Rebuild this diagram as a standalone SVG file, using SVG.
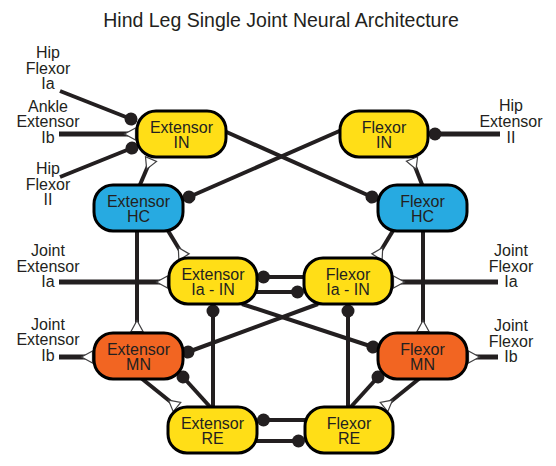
<svg xmlns="http://www.w3.org/2000/svg" width="556" height="466" viewBox="0 0 556 466">
<style>
  text { font-family: "Liberation Sans", Arial, sans-serif; fill: #231F20; }
  .title { font-size: 19.5px; text-anchor: middle; }
  .lbl { font-size: 16px; text-anchor: middle; }
  .nt { font-size: 16px; text-anchor: middle; }
  .box { stroke: #000; stroke-width: 3; }
  .y { fill: #FFDE17; }
  .b { fill: #27AAE1; }
  .o { fill: #F26522; }
  .c { stroke: #231F20; stroke-width: 4; fill: none; }
  .in { stroke-width: 5; }
  .exc { marker-end: url(#exc); }
  .inh { marker-end: url(#inh); }
</style>
<defs>
  <marker id="exc" markerUnits="userSpaceOnUse" markerWidth="16" markerHeight="16" viewBox="-13 -8 16 16" refX="0" refY="0" orient="auto">
    <path d="M-11,0 L0,-6 L0,6 Z" fill="#fff" stroke="#414042" stroke-width="1.2" stroke-linejoin="miter"/>
  </marker>
  <marker id="inh" markerUnits="userSpaceOnUse" markerWidth="16" markerHeight="16" viewBox="-8 -8 16 16" refX="0" refY="0" orient="auto">
    <circle cx="0" cy="0" r="6.5" fill="#231F20"/>
  </marker>
</defs>

<text class="title" x="281" y="27">Hind Leg Single Joint Neural Architecture</text>

<g id="labels">
  <text class="lbl" x="48" y="58">Hip</text>
  <text class="lbl" x="48" y="74">Flexor</text>
  <text class="lbl" x="48" y="89">Ia</text>
  <text class="lbl" x="48" y="112">Ankle</text>
  <text class="lbl" x="48" y="127">Extensor</text>
  <text class="lbl" x="48" y="143">Ib</text>
  <text class="lbl" x="48" y="174">Hip</text>
  <text class="lbl" x="48" y="190">Flexor</text>
  <text class="lbl" x="48" y="205">II</text>
  <text class="lbl" x="48" y="256">Joint</text>
  <text class="lbl" x="48" y="272">Extensor</text>
  <text class="lbl" x="48" y="287">Ia</text>
  <text class="lbl" x="48" y="330">Joint</text>
  <text class="lbl" x="48" y="345">Extensor</text>
  <text class="lbl" x="48" y="361">Ib</text>
  <text class="lbl" x="511" y="111">Hip</text>
  <text class="lbl" x="511" y="127">Extensor</text>
  <text class="lbl" x="511" y="143">II</text>
  <text class="lbl" x="511" y="256">Joint</text>
  <text class="lbl" x="511" y="272">Flexor</text>
  <text class="lbl" x="511" y="287">Ia</text>
  <text class="lbl" x="511" y="331">Joint</text>
  <text class="lbl" x="511" y="347">Flexor</text>
  <text class="lbl" x="511" y="362">Ib</text>
</g>

<g id="connectors">
  <!-- inputs -->
  <path class="c inh" d="M60,91 L131,119"/>
  <path class="c in exc" d="M59,134 L135.5,134"/>
  <path class="c inh" d="M60,177 L132,148"/>
  <path class="c in inh" d="M500,134 L435,134"/>
  <path class="c in exc" d="M59,282 L167.5,282"/>
  <path class="c in exc" d="M59,357 L92.5,357"/>
  <path class="c in exc" d="M498,282 L393.5,282"/>
  <path class="c in exc" d="M498,357 L468.5,357"/>
  <!-- HC to IN -->
  <path class="c exc" d="M139,187 L151,159"/>
  <path class="c exc" d="M423,187 L412,159"/>
  <!-- IN to HC crossing -->
  <path class="c inh" d="M222,130 L372,197"/>
  <path class="c inh" d="M344,129 L189,197"/>
  <!-- HC to Ia-IN -->
  <path class="c exc" d="M167,229 L184,257"/>
  <path class="c exc" d="M394,229 L377,257"/>
  <!-- HC to MN -->
  <path class="c exc" d="M137,230 L137,331.5"/>
  <path class="c exc" d="M423,230 L423,331.5"/>
  <!-- Ia-IN mutual -->
  <path class="c inh" d="M306,277 L263.5,277"/>
  <path class="c inh" d="M255,292 L297.5,292"/>
  <!-- Ia-IN to MN crossing -->
  <path class="c inh" d="M242,304 L373,347"/>
  <path class="c inh" d="M318,304 L188,352"/>
  <!-- RE to Ia-IN -->
  <path class="c inh" d="M213,410 L213,311"/>
  <path class="c inh" d="M348,410 L348,311"/>
  <!-- RE to MN -->
  <path class="c inh" d="M212,409 L183,377"/>
  <path class="c inh" d="M349,409 L378,377"/>
  <!-- MN to RE -->
  <path class="c exc" d="M141,378 L177,407"/>
  <path class="c exc" d="M420,378 L384,407"/>
  <!-- RE mutual -->
  <path class="c inh" d="M306,420 L263.5,420"/>
  <path class="c inh" d="M255,441 L298.5,441"/>
</g>

<g id="extensor-in">
  <rect class="box y" x="137" y="111" width="89" height="46" rx="19"/>
  <text class="nt" x="181.5" y="133">Extensor</text>
  <text class="nt" x="181.5" y="148">IN</text>
</g>
<g id="flexor-in">
  <rect class="box y" x="340" y="111" width="88" height="46" rx="19"/>
  <text class="nt" x="384" y="133">Flexor</text>
  <text class="nt" x="384" y="148">IN</text>
</g>
<g id="extensor-hc">
  <rect class="box b" x="94" y="185" width="89" height="46" rx="19"/>
  <text class="nt" x="138.5" y="207">Extensor</text>
  <text class="nt" x="138.5" y="222">HC</text>
</g>
<g id="flexor-hc">
  <rect class="box b" x="378" y="185" width="89" height="46" rx="19"/>
  <text class="nt" x="422.5" y="207">Flexor</text>
  <text class="nt" x="422.5" y="222">HC</text>
</g>
<g id="extensor-ia-in">
  <rect class="box y" x="169" y="258" width="88" height="46" rx="19"/>
  <text class="nt" x="213" y="280">Extensor</text>
  <text class="nt" x="213" y="295">Ia - IN</text>
</g>
<g id="flexor-ia-in">
  <rect class="box y" x="304" y="258" width="88" height="46" rx="19"/>
  <text class="nt" x="348" y="280">Flexor</text>
  <text class="nt" x="348" y="295">Ia - IN</text>
</g>
<g id="extensor-mn">
  <rect class="box o" x="94" y="333" width="89" height="46" rx="19"/>
  <text class="nt" x="138.5" y="355">Extensor</text>
  <text class="nt" x="138.5" y="370">MN</text>
</g>
<g id="flexor-mn">
  <rect class="box o" x="378" y="333" width="89" height="46" rx="19"/>
  <text class="nt" x="422.5" y="355">Flexor</text>
  <text class="nt" x="422.5" y="370">MN</text>
</g>
<g id="extensor-re">
  <rect class="box y" x="168" y="407" width="89" height="46" rx="19"/>
  <text class="nt" x="212.5" y="429">Extensor</text>
  <text class="nt" x="212.5" y="444">RE</text>
</g>
<g id="flexor-re">
  <rect class="box y" x="305" y="407" width="88" height="46" rx="19"/>
  <text class="nt" x="349" y="429">Flexor</text>
  <text class="nt" x="349" y="444">RE</text>
</g>
</svg>
